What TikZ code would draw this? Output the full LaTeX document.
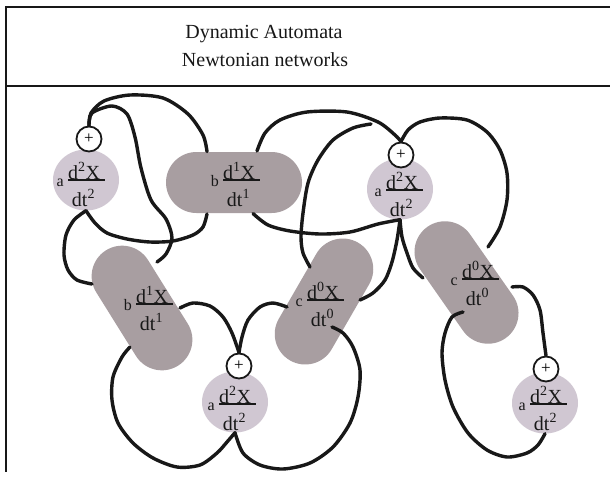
\documentclass[tikz,border=0pt]{standalone}
\usepackage{fontspec}
\setmainfont{Liberation Serif}
\usetikzlibrary{shapes.geometric,calc}
\pgfdeclarelayer{paper}
\pgfdeclarelayer{bg}
\pgfdeclarelayer{fg}
\pgfsetlayers{paper,bg,main,fg}
\definecolor{circfill}{RGB}{208,199,210}
\definecolor{pillfill}{RGB}{168,158,161}
\definecolor{ink}{RGB}{24,24,24}
\tikzset{
 frameline/.style={line width=1.8pt, draw=ink},
 wire/.style={line width=3.4pt, draw=ink, line cap=round},
 dotnode/.style={ellipse, fill=circfill, minimum width=66pt, minimum height=61pt, inner sep=0pt},
 pill/.style={rectangle, fill=pillfill, minimum width=136pt, minimum height=61pt, rounded corners=30.5pt, inner sep=0pt},
 plusnode/.style={circle, draw=ink, line width=1.8pt, fill=white, minimum size=25pt, inner sep=0pt, font=\fontsize{17}{17}\selectfont},
 numer/.style={anchor=base west, inner sep=0pt, font=\fontsize{20}{20}\selectfont, text=ink},
 denom/.style={anchor=base, inner sep=0pt, font=\fontsize{20}{20}\selectfont, text=ink},
 prefixtext/.style={anchor=base east, inner sep=0pt, font=\fontsize{16}{16}\selectfont, text=ink},
 fracbar/.style={line width=2.2pt, draw=ink},
 titletext/.style={anchor=base, inner sep=0pt, font=\fontsize{20}{24}\selectfont, text=ink},
}
% #1 name, #2 bar left x, #3 bar y, #4 prefix, #5 exponent
\newcommand\flab[5]{%
  \node[numer] (#1n) at (#2,#3-1) {d\textsuperscript{#5}X};
  \draw[fracbar] (#2,#3) -- ++(37,0);
  \node[denom] (#1d) at (#2+15.5,#3+26) {dt\textsuperscript{#5}};
  \node[prefixtext] (#1a) at (#2-4,#3+6) {#4};
}
\begin{document}
\begin{tikzpicture}[x=1pt,y=-1pt]
\useasboundingbox (0,0) rectangle (610,477);
\begin{pgfonlayer}{paper}
\fill[white] (0,0) rectangle (610,477);
\end{pgfonlayer}
% frame
\draw[frameline] (610,7) -- (6,7) -- (6,472);
\draw[frameline] (6,86) -- (610,86);
\node[titletext] (t1) at (264,38) {Dynamic Automata};
\node[titletext] (t2) at (265,66) {Newtonian networks};
% shapes
\begin{pgfonlayer}{bg}
\node[dotnode] (a1) at (86,180) {};
\node[dotnode] (a2) at (400,189) {};
\node[dotnode] (a3) at (235,402) {};
\node[dotnode] (a4) at (545,403) {};
\node[pill] (b1) at (234,182.5) {};
\node[pill, rotate=-58] (b2) at (142,308) {};
\node[pill, rotate=60] (c1) at (324,301.5) {};
\node[pill, rotate=-55] (c2) at (466.5,282.5) {};
\end{pgfonlayer}
\begin{pgfonlayer}{fg}
\node[plusnode] (a1p) at (89,139) {+};
\node[plusnode] (a2p) at (401,155) {+};
\node[plusnode] (a3p) at (239,366) {+};
\node[plusnode] (a4p) at (546,369) {+};
\flab{a1}{68}{180}{a}{2}
\flab{b1}{223}{180}{b}{1}
\flab{a2}{386}{190}{a}{2}
\flab{b2}{136}{304}{b}{1}
\flab{c1}{307}{300}{c}{0}
\flab{a3}{219}{404}{a}{2}
\flab{c2}{462}{279}{c}{0}
\flab{a4}{530}{404}{a}{2}
\end{pgfonlayer}
% connector end points on the shapes
\coordinate (b1tl) at ($(b1)+(-27,-31)$);
\coordinate (b1bl) at ($(b1)+(-27,31.5)$);
\coordinate (b1tr) at ($(b1)+(23,-31.5)$);
\coordinate (b1br) at ($(b1)+(19,31)$);
\coordinate (b2tr) at ($(b2)+(15,-46)$);
\coordinate (b2l) at ($(b2)+(-50,-24)$);
\coordinate (b2r) at ($(b2)+(38,0)$);
\coordinate (b2bl) at ($(b2)+(-12,39)$);
\coordinate (c1tl) at ($(c1)+(-14,-34.5)$);
\coordinate (c1r) at ($(c1)+(36,-1.5)$);
\coordinate (c1l) at ($(c1)+(-37,5.5)$);
\coordinate (c1in) at ($(c1)+(8,25.5)$);
\coordinate (c2tr) at ($(c2)+(21.5,-35.5)$);
\coordinate (c2l) at ($(c2)+(-43.5,-4.5)$);
\coordinate (c2r) at ($(c2)+(45.5,4.5)$);
\coordinate (c2in) at ($(c2)+(-3.5,29.5)$);
\coordinate (j1) at (371,124);
% connectors
\draw[wire] plot[smooth] coordinates {(a1p.north) (91,113) (104,101) (130,95) (163,98) (188,114) (203,135) (b1tl)};
\draw[wire] plot[smooth] coordinates {(a1p.north) (92,113) (112,106) (127,114) (135,137) (141,168) (151,200) (166,219) (172,238) (166,254) (b2tr)};
\draw[wire] plot[smooth] coordinates {(a1.south) (95,223) (107,233) (127,239) (150,242) (173,241) (193,235) (203,227) (b1bl)};
\draw[wire] plot[smooth] coordinates {(a1.south) (74,220) (66,235) (64,255) (68,270) (77,280) (b2l)};
\draw[wire] plot[smooth] coordinates {(b1tr) (265,133) (280,120) (307,112) (347,112) (378,122) (395,135) (a2p.north)};
\draw[wire] plot[smooth] coordinates {(a2p.north) (408,130) (420,122) (440,118) (467,120) (487,132) (500,150) (507,173) (507,200) (500,227) (c2tr)};
\draw[wire] plot[smooth] coordinates {(j1) (353,128) (333,140) (318,160) (308,183) (303,213) (301,237) (303,253) (c1tl)};
\draw[wire] plot[smooth] coordinates {(b1br) (268,225) (290,231) (320,234) (350,232) (378,224) (a2.south)};
\draw[wire] plot[smooth] coordinates {(a2.south) (397,240) (392,262) (385,280) (373,293) (c1r)};
\draw[wire] plot[smooth] coordinates {(a2.south) (402,237) (407,253) (413,268) (c2l)};
\draw[wire] plot[smooth] coordinates {(b2r) (193,303) (210,306) (223,317) (232,333) (a3p.north)};
\draw[wire] plot[smooth] coordinates {(b2bl) (122,357) (113,377) (112,400) (118,423) (133,443) (153,458) (177,467) (200,465) (217,453) (227,442) (a3.south)};
\draw[wire] plot[smooth] coordinates {(c1l) (273,303) (260,307) (248,320) (242,337) (a3p.north)};
\draw[wire] plot[smooth] coordinates {(c1in) (343,333) (353,347) (360,370) (358,397) (350,423) (333,447) (310,463) (283,469) (260,465) (243,453) (a3.south)};
\draw[wire] plot[smooth] coordinates {(c2r) (523,287) (533,295) (540,310) (543,333) (a4p.north)};
\draw[wire] plot[smooth] coordinates {(c2in) (452,317) (445,333) (442,353) (445,380) (453,407) (468,433) (487,450) (507,457) (527,453) (538,445) (a4.south)};
\end{tikzpicture}
\end{document}
